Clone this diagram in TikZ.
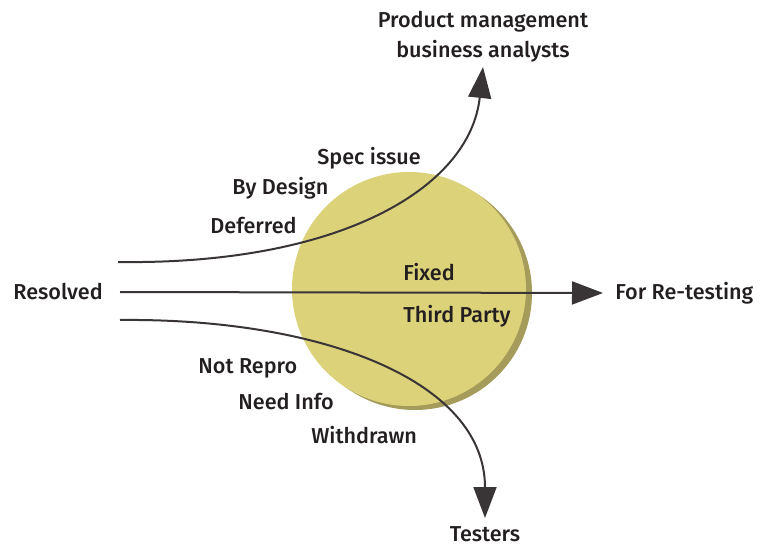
\documentclass[tikz,border=0pt]{standalone}
\usepackage{fontspec}
\setmainfont{Fira Sans}[UprightFont=* Medium, BoldFont=* Bold]
\usepackage{xcolor}
\usepackage{tikz}
\usetikzlibrary{arrows.meta}

\definecolor{coin}{HTML}{DCD27A}
\definecolor{coinedge}{HTML}{A59B5A}
\definecolor{ink}{HTML}{231F20}

\begin{document}
\begin{tikzpicture}[x=0.5pt, y=-0.5pt,
  lbl/.style={font=\fontsize{10.8}{15}\selectfont, text=ink,
              inner sep=0pt, anchor=west},
  arr/.style={-{Triangle[length=15.5pt, width=11.5pt]},
              line width=1pt, draw=ink!90},
]
\useasboundingbox (0,0) rectangle (766,546);

% --- Disc (edge drawn first, face on top) ---
\fill[coinedge] (415,293) circle[radius=58.5pt];
\fill[coin]     (409,289) circle[radius=58.5pt];

% --- Source and targets ---
\node[lbl] (resolved) at (13,292) {Resolved};
\node[lbl, inner xsep=6pt] (retest) at (603,293) {For Re-testing};
\node[lbl, anchor=south, align=center, inner sep=2pt]
  (product) at (483,67) {Product management\\business analysts};
\node[lbl, anchor=north, inner sep=4pt] (testers) at (485,518) {Testers};

% --- Resolutions ---
% upper branch
\node[lbl] (spec)     at (317,158) {Spec issue};
\node[lbl] (design)   at (232,188) {By Design};
\node[lbl] (deferred) at (210,226) {Deferred};
% middle
\node[lbl] (fixed)    at (403,272) {Fixed};
\node[lbl] (third)    at (403,316) {Third Party};
% lower branch
\node[lbl] (notrepro) at (198,368) {Not Repro};
\node[lbl] (needinfo) at (238,402) {Need Info};
\node[lbl] (withdrawn) at (311,435) {Withdrawn};

% --- Flows (free ends start right of Resolved) ---
\coordinate (upstart)  at (118,262);
\coordinate (midstart) at (120,292);
\coordinate (lowstart) at (120,320);

\draw[arr] (upstart) .. controls (340,265) and (470,188) .. (product.south);
\draw[arr] (midstart) -- (retest.west);
\draw[arr] (lowstart) .. controls (320,318) and (485,380) .. (testers.north);
\end{tikzpicture}
\end{document}
